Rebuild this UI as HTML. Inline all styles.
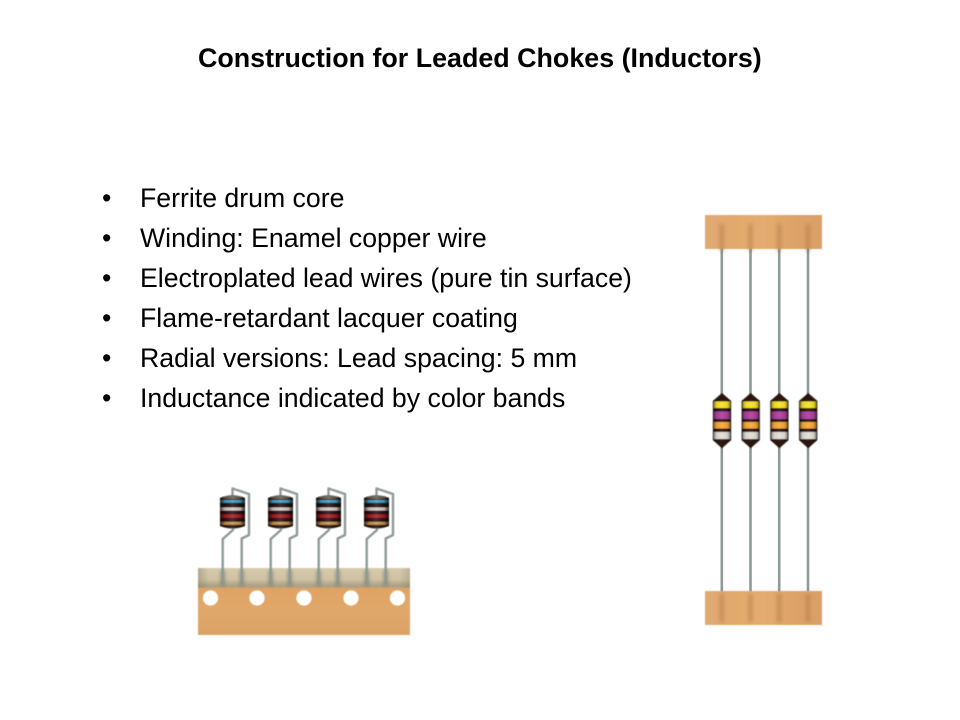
<!DOCTYPE html>
<html><head><meta charset="utf-8">
<style>
html,body{margin:0;padding:0;background:#fff;}
#p{position:relative;width:960px;height:720px;overflow:hidden;background:#fff;font-family:"Liberation Sans",Arial,sans-serif;color:#000;}
.t{position:absolute;white-space:nowrap;font-size:26.67px;line-height:30px;}
svg{position:absolute;left:0;top:0;}
</style></head><body>
<div id="p">
<svg width="960" height="720" viewBox="0 0 960 720">
<defs>
<filter id="b" x="-10%" y="-10%" width="120%" height="120%"><feGaussianBlur stdDeviation="0.45"/></filter>
<filter id="b2" x="-100%" y="-20%" width="300%" height="140%"><feGaussianBlur stdDeviation="1.8"/></filter>
<linearGradient id="board" x1="0" y1="0" x2="1" y2="0">
<stop offset="0" stop-color="#e0aa74"/><stop offset=".25" stop-color="#e2a86c"/><stop offset=".5" stop-color="#e4ac70"/><stop offset=".75" stop-color="#dda266"/><stop offset="1" stop-color="#daa068"/></linearGradient>
<linearGradient id="tape" x1="0" y1="0" x2="0" y2="1">
<stop offset="0" stop-color="#e0a364"/><stop offset=".5" stop-color="#e0a86a"/><stop offset="1" stop-color="#daa266"/></linearGradient>
<linearGradient id="kh" x1="0" y1="0" x2="0" y2="1">
<stop offset="0" stop-color="#d8ccae"/><stop offset=".55" stop-color="#cfc2a2"/><stop offset=".85" stop-color="#aaa388"/><stop offset="1" stop-color="#b8a27c"/></linearGradient>
<linearGradient id="kx" x1="0" y1="0" x2="1" y2="0">
<stop offset="0" stop-color="#807860" stop-opacity=".4"/><stop offset=".05" stop-color="#807860" stop-opacity="0"/><stop offset=".95" stop-color="#807860" stop-opacity="0"/><stop offset="1" stop-color="#807860" stop-opacity=".3"/></linearGradient>
<linearGradient id="sh" x1="0" y1="0" x2="1" y2="0">
<stop offset="0" stop-color="#000" stop-opacity=".75"/><stop offset=".2" stop-color="#000" stop-opacity=".1"/><stop offset=".5" stop-color="#fff" stop-opacity=".12"/><stop offset=".8" stop-color="#000" stop-opacity=".1"/><stop offset="1" stop-color="#000" stop-opacity=".8"/></linearGradient>
<g id="rad">
<rect x="220.5" y="570" width="4.5" height="16" fill="#5a5a48" opacity=".45" filter="url(#b2)"/>
<rect x="239.5" y="570" width="4.5" height="16" fill="#5a5a48" opacity=".45" filter="url(#b2)"/>
<g filter="url(#b)">
<path d="M232.5 498V488.5L249 494V535L241.7 538.5V583" fill="none" stroke="#8e9a9a" stroke-width="2.4" stroke-linejoin="round"/>
<path d="M233 526V530L222.7 539V583" fill="none" stroke="#8e9a9a" stroke-width="2.4" stroke-linejoin="round"/>
<path d="M220 498Q232.5 492.5 245 498V526Q232.5 531 220 526Z" fill="#2a1010"/>
<path d="M220 498Q232.5 493 245 498Q232.5 500 220 498Z" fill="#6e5e50"/>
<rect x="220" y="500" width="25" height="2.8" fill="#3aa6cc"/>
<rect x="220" y="507.5" width="25" height="3" fill="#d8cfc4"/>
<rect x="220" y="514.3" width="25" height="3.6" fill="#a81c28"/>
<rect x="220" y="521.8" width="25" height="3" fill="#c89850"/>
<path d="M220 498Q232.5 492.5 245 498V526Q232.5 531 220 526Z" fill="url(#sh)"/>
</g>
</g>
<g id="ax" filter="url(#b)">
<path d="M722 393.5L730.7 401V440L722 447.7L713.3 440V401Z" fill="#2a1510" stroke="#2a1510" stroke-width=".8" stroke-linejoin="round"/>
<rect x="714" y="401.5" width="16" height="6.5" fill="#f6e428"/>
<rect x="714" y="411.5" width="16" height="7.5" fill="#b040a0"/>
<rect x="714" y="422" width="16" height="6.5" fill="#f8a838"/>
<rect x="714" y="432" width="16" height="7" fill="#e2e0d8"/>
<rect x="713.3" y="400" width="17.4" height="41" fill="url(#sh)" opacity=".6"/>
</g>
<g id="sd"><rect x="719.5" y="0" width="4.5" height="28" fill="#a56c3c" opacity=".4" filter="url(#b2)"/></g>
</defs>

<!-- right strip -->
<g fill="none" stroke="#8d9a9a" stroke-width="2.6">
<path d="M721.8 245V595M750.5 245V595M779.2 245V595M808 245V595"/>
</g>
<g filter="url(#b)">
<rect x="705" y="215" width="117" height="34" fill="url(#board)"/>
<rect x="705" y="591" width="117" height="34" fill="url(#board)"/>
</g>
<use href="#sd" y="224"/><use href="#sd" x="28.7" y="224"/><use href="#sd" x="57.4" y="224"/><use href="#sd" x="86.2" y="224"/>
<use href="#sd" y="594"/><use href="#sd" x="28.7" y="594"/><use href="#sd" x="57.4" y="594"/><use href="#sd" x="86.2" y="594"/>
<use href="#ax"/><use href="#ax" x="28.7"/><use href="#ax" x="57.4"/><use href="#ax" x="86.2"/>

<!-- tape -->
<g filter="url(#b)">
<rect x="198" y="568" width="212" height="20.5" fill="url(#kh)"/>
<rect x="198" y="568" width="212" height="20.5" fill="url(#kx)"/>
<rect x="198" y="588" width="212" height="47" fill="url(#tape)"/>
</g>
<use href="#rad"/><use href="#rad" x="48"/><use href="#rad" x="96"/><use href="#rad" x="144"/>
<g fill="#fff" filter="url(#b)">
<circle cx="210.5" cy="598" r="7.6"/><circle cx="257" cy="598" r="7.6"/><circle cx="304" cy="598" r="7.6"/><circle cx="351" cy="598" r="7.6"/><circle cx="397.5" cy="598" r="7.6"/>
</g>
</svg>

<div class="t" style="left:198px;top:43px;font-weight:bold;font-size:26.85px;">Construction for Leaded Chokes (Inductors)</div>

<div class="t" style="left:102px;top:183px;">•</div><div class="t" style="left:140px;top:183px;">Ferrite drum core</div>
<div class="t" style="left:102px;top:223px;">•</div><div class="t" style="left:140px;top:223px;">Winding: Enamel copper wire</div>
<div class="t" style="left:102px;top:263px;">•</div><div class="t" style="left:140px;top:263px;">Electroplated lead wires (pure tin surface)</div>
<div class="t" style="left:102px;top:303px;">•</div><div class="t" style="left:140px;top:303px;">Flame-retardant lacquer coating</div>
<div class="t" style="left:102px;top:343px;">•</div><div class="t" style="left:140px;top:343px;">Radial versions: Lead spacing: 5 mm</div>
<div class="t" style="left:102px;top:383px;">•</div><div class="t" style="left:140px;top:383px;">Inductance indicated by color bands</div>
</div>
</body></html>
